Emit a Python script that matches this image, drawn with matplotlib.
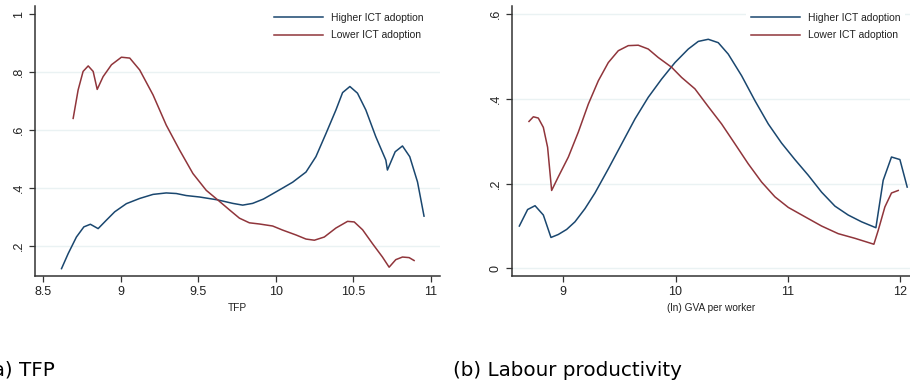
import matplotlib
matplotlib.use("Agg")
import matplotlib.pyplot as plt

# (a) TFP
tfp_hi_x = [8.618, 8.661, 8.714, 8.762, 8.804, 8.854, 8.907, 8.961, 9.036, 9.122, 9.208, 9.293,
            9.358, 9.422, 9.508, 9.625, 9.722, 9.786, 9.850, 9.920, 9.979, 10.044, 10.108, 10.194,
            10.258, 10.323, 10.387, 10.430, 10.477, 10.526, 10.580, 10.644, 10.709, 10.719,
            10.769, 10.816, 10.863, 10.913, 10.955]
tfp_hi_y = [0.122, 0.174, 0.231, 0.266, 0.275, 0.260, 0.289, 0.318, 0.346, 0.364, 0.378, 0.383,
            0.381, 0.374, 0.369, 0.359, 0.347, 0.341, 0.347, 0.362, 0.380, 0.400, 0.420, 0.455,
            0.508, 0.588, 0.669, 0.729, 0.750, 0.727, 0.669, 0.577, 0.496, 0.462,
            0.525, 0.545, 0.508, 0.421, 0.303]

tfp_lo_x = [8.693, 8.725, 8.757, 8.790, 8.822, 8.848, 8.886, 8.940, 9.004, 9.058, 9.122, 9.208,
            9.293, 9.379, 9.465, 9.551, 9.625, 9.702, 9.765, 9.829, 9.893, 9.979, 10.043, 10.130,
            10.194, 10.248, 10.312, 10.387, 10.462, 10.505, 10.559, 10.623, 10.687, 10.730, 10.773,
            10.816, 10.859, 10.891]
tfp_lo_y = [0.640, 0.738, 0.802, 0.821, 0.802, 0.740, 0.784, 0.825, 0.851, 0.848, 0.807, 0.721,
            0.617, 0.531, 0.450, 0.392, 0.359, 0.324, 0.296, 0.280, 0.276, 0.269, 0.255, 0.238,
            0.224, 0.220, 0.231, 0.262, 0.285, 0.283, 0.256, 0.208, 0.162, 0.127, 0.153,
            0.162, 0.160, 0.150]

# (b) Labour productivity
lp_hi_x = [8.608, 8.682, 8.748, 8.822, 8.890, 8.955, 9.030, 9.104, 9.193, 9.282, 9.401, 9.520,
           9.639, 9.757, 9.876, 9.995, 10.114, 10.203, 10.292, 10.381, 10.470, 10.589, 10.708,
           10.827, 10.945, 11.064, 11.183, 11.302, 11.421, 11.539, 11.658, 11.786, 11.851,
           11.925, 12.000, 12.065]
lp_hi_y = [0.100, 0.139, 0.148, 0.126, 0.073, 0.080, 0.092, 0.110, 0.141, 0.178, 0.235, 0.294,
           0.353, 0.404, 0.447, 0.486, 0.518, 0.536, 0.541, 0.533, 0.506, 0.455, 0.396,
           0.341, 0.296, 0.257, 0.220, 0.180, 0.147, 0.126, 0.110, 0.096, 0.208,
           0.263, 0.257, 0.192]

lp_lo_x = [8.694, 8.733, 8.777, 8.822, 8.860, 8.896, 8.955, 9.045, 9.134, 9.223, 9.312, 9.401,
           9.490, 9.579, 9.668, 9.757, 9.846, 9.965, 10.054, 10.173, 10.292, 10.411, 10.530,
           10.648, 10.767, 10.886, 11.005, 11.153, 11.302, 11.450, 11.599, 11.768, 11.807,
           11.866, 11.925, 11.985]
lp_lo_y = [0.347, 0.358, 0.355, 0.333, 0.286, 0.184, 0.216, 0.263, 0.322, 0.388, 0.443, 0.486,
           0.514, 0.526, 0.527, 0.518, 0.498, 0.475, 0.451, 0.424, 0.382, 0.341, 0.294,
           0.247, 0.204, 0.169, 0.144, 0.122, 0.100, 0.082, 0.071, 0.057, 0.090,
           0.145, 0.178, 0.184]

tfp_xticks = [8.5, 9, 9.5, 10, 10.5, 11]
tfp_xlabels = ["8.5", "9", "9.5", "10", "10.5", "11"]
tfp_yticks = [0.2, 0.4, 0.6, 0.8, 1.0]
tfp_ylabels = [".2", ".4", ".6", ".8", "1"]
lp_xticks = [9, 10, 11, 12]
lp_xlabels = ["9", "10", "11", "12"]
lp_yticks = [0, 0.2, 0.4, 0.6]
lp_ylabels = ["0", ".2", ".4", ".6"]

labels = ["Higher ICT adoption", "Lower ICT adoption"]
BLUE = "#1a476f"
RED = "#90353b"
GRID = "#eaf2f3"

plt.rcParams["font.family"] = ["Liberation Sans", "DejaVu Sans"]

fig = plt.figure(figsize=(9.1, 3.89), dpi=100)
ax1 = fig.add_axes([35 / 910, 113 / 389, 405 / 910, 270 / 389])
ax2 = fig.add_axes([511.7 / 910, 113 / 389, 398.3 / 910, 270 / 389])


def style(ax, xticks, xlabels, yticks, ylabels, grid_vals, xlabel):
    for g in grid_vals:
        ax.axhline(g, color=GRID, lw=1.0, zorder=0)
    ax.set_xticks(xticks)
    ax.set_xticklabels(xlabels)
    ax.set_yticks(yticks)
    ax.set_yticklabels(ylabels, rotation=90, va="center")
    ax.tick_params(axis="both", labelsize=9, length=4, width=0.9, color="#333333",
                   labelcolor="#222222", pad=3)
    ax.tick_params(axis="y", pad=3)
    ax.spines["top"].set_visible(False)
    ax.spines["right"].set_visible(False)
    for s in ("left", "bottom"):
        ax.spines[s].set_color("#333333")
        ax.spines[s].set_linewidth(1.1)
    ax.set_xlabel(xlabel, fontsize=7.3, color="#222222", labelpad=4)


style(ax1, tfp_xticks, tfp_xlabels, tfp_yticks, tfp_ylabels, [0.2, 0.4, 0.6, 0.8], "TFP")
ax1.plot(tfp_hi_x, tfp_hi_y, color=BLUE, lw=1.1, label=labels[0])
ax1.plot(tfp_lo_x, tfp_lo_y, color=RED, lw=1.1, label=labels[1])
ax1.set_xlim(8.447, 11.058)
ax1.set_ylim(0.0966, 1.0276)

style(ax2, lp_xticks, lp_xlabels, lp_yticks, lp_ylabels, [0, 0.2, 0.4, 0.6], "(ln) GVA per worker")
ax2.plot(lp_hi_x, lp_hi_y, color=BLUE, lw=1.1, label=labels[0])
ax2.plot(lp_lo_x, lp_lo_y, color=RED, lw=1.1, label=labels[1])
ax2.set_xlim(8.54, 12.09)
ax2.set_ylim(-0.018, 0.6196)

for ax, lx in ((ax1, 269), (ax2, 746)):
    leg = ax.legend(loc="upper left", bbox_to_anchor=(lx / 910, 1 - 8 / 389),
                    bbox_transform=fig.transFigure, fontsize=7.5, frameon=True,
                    facecolor="white", edgecolor="none", framealpha=1, fancybox=False,
                    borderaxespad=0, borderpad=0.45, handlelength=4.7, handletextpad=0.8,
                    labelspacing=0.72)
    for t in leg.get_texts():
        t.set_color("#222222")

# the "(a)" caption is cropped at the left edge in the reference as well
fig.text(55 / 910, 1 - 370 / 389, "(a) TFP", ha="right", va="center", fontsize=14.3,
         family="DejaVu Sans")
fig.text(453 / 910, 1 - 370 / 389, "(b) Labour productivity", ha="left", va="center",
         fontsize=14.3, family="DejaVu Sans")

fig.savefig("out.png", dpi=100)
